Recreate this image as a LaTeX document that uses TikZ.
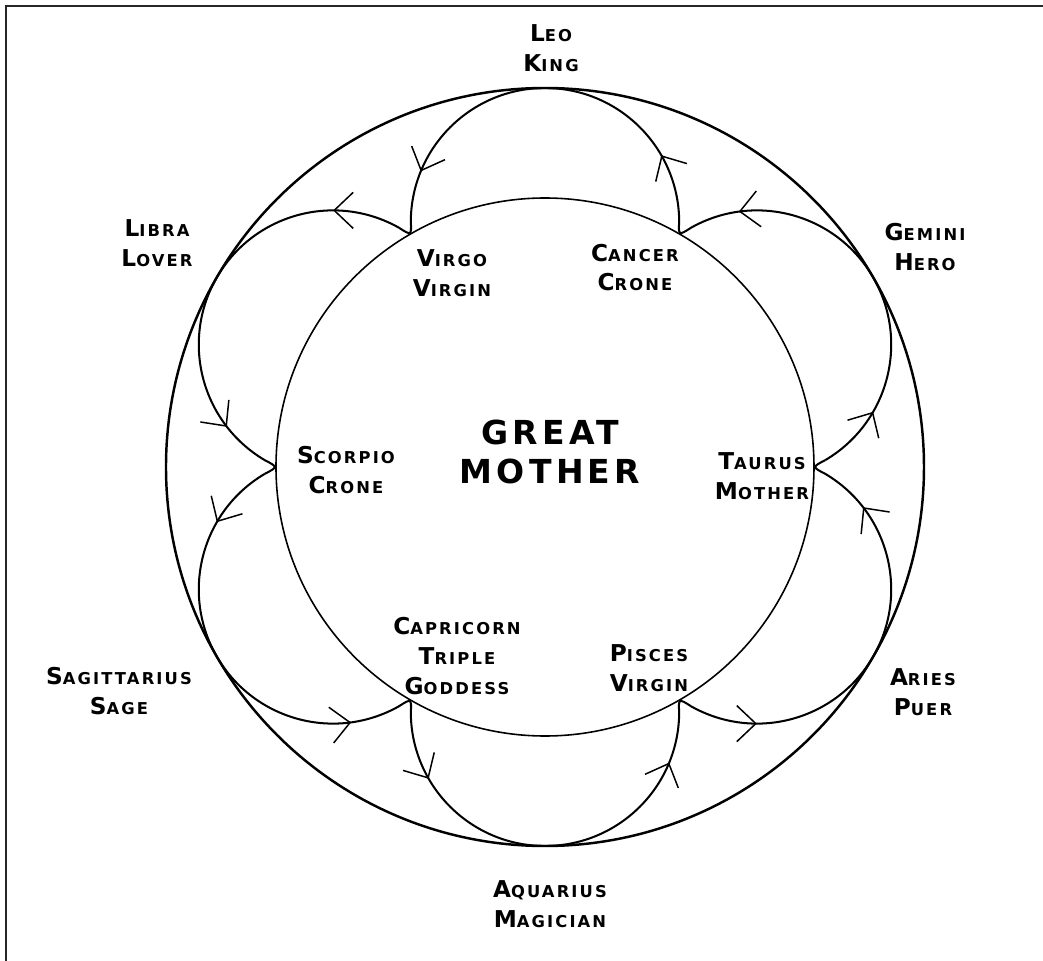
\documentclass[tikz,border=0pt]{standalone}
\usepackage{fontspec}
\setmainfont{DejaVu Sans}
\newfontfamily\zodfont[LetterSpace=13]{DejaVu Sans}
\usepackage{tikz}
\usetikzlibrary{calc,arrows.meta,decorations.markings}
\newcommand{\smc}[2]{#1{\fontsize{9.3}{17}\selectfont #2}}
\tikzset{petaltip/.tip={Straight Barb[length=3.8mm, width=7.2mm, line width=0.85pt]}}

\begin{document}
\begin{tikzpicture}[
  zod/.style={align=center, font=\zodfont\bfseries\fontsize{13.2}{17}\selectfont},
  great/.style={align=center, font=\zodfont\bfseries\fontsize{18.8}{22.7}\selectfont},
  frame/.style={line width=1.4pt, draw=black!85},
  ring/.style={line width=1.4pt},
  inring/.style={line width=0.9pt},
  petal/.style={line width=1.15pt, decoration={markings,
    mark=at position 0.155 with {\arrow{petaltip}},
    mark=at position 0.83 with {\arrow{petaltip}}}, postaction={decorate}}]
\useasboundingbox (-10.9,-9.88) rectangle (9.96,9.34);
% frame, cropped on two sides
\draw[frame] (-10.78,-9.88) -- (-10.78,9.22) -- (9.96,9.22);
% circles
\draw[ring] (0,0) circle[radius=7.58];
\draw[inring] (0,0) circle[radius=5.38];
% six petals, counterclockwise
\foreach \t in {30,90,...,330}{
  \draw[petal] ($(\t:4.896)+(\t-89.4:2.684)$) arc[start angle=\t-89.4, end angle=\t+89.4, radius=2.684]
    .. controls (\t+30:5.34) .. ($(\t+60:4.896)+(\t-29.4:2.684)$);
}
% outer labels
\node[zod] (leo) at (0.12,8.38) {\smc{L}{EO}\\\smc{K}{ING}};
\node[zod] (libra) at (-7.76,4.48) {\smc{L}{IBRA}\\\smc{L}{OVER}};
\node[zod] (gemini) at (7.60,4.40) {\smc{G}{EMINI}\\\smc{H}{ERO}};
\node[zod] (sagittarius) at (-8.52,-4.48) {\smc{S}{AGITTARIUS}\\\smc{S}{AGE}};
\node[zod] (aries) at (7.56,-4.50) {\smc{A}{RIES}\\\smc{P}{UER}};
\node[zod] (aquarius) at (0.10,-8.74) {\smc{A}{QUARIUS}\\\smc{M}{AGICIAN}};
% inner labels
\node[zod] (virgo) at (-1.86,3.88) {\smc{V}{IRGO}\\\smc{V}{IRGIN}};
\node[zod] (cancer) at (1.80,3.99) {\smc{C}{ANCER}\\\smc{C}{RONE}};
\node[zod] (scorpio) at (-3.98,-0.06) {\smc{S}{CORPIO}\\\smc{C}{RONE}};
\node[zod] (taurus) at (4.34,-0.19) {\smc{T}{AURUS}\\\smc{M}{OTHER}};
\node[zod] (capricorn) at (-1.76,-3.78) {\smc{C}{APRICORN}\\\smc{T}{RIPLE}\\\smc{G}{ODDESS}};
\node[zod] (pisces) at (2.08,-4.03) {\smc{P}{ISCES}\\\smc{V}{IRGIN}};
\node[great] (mother) at (0.10,0.30) {GREAT\\MOTHER};
\end{tikzpicture}
\end{document}
